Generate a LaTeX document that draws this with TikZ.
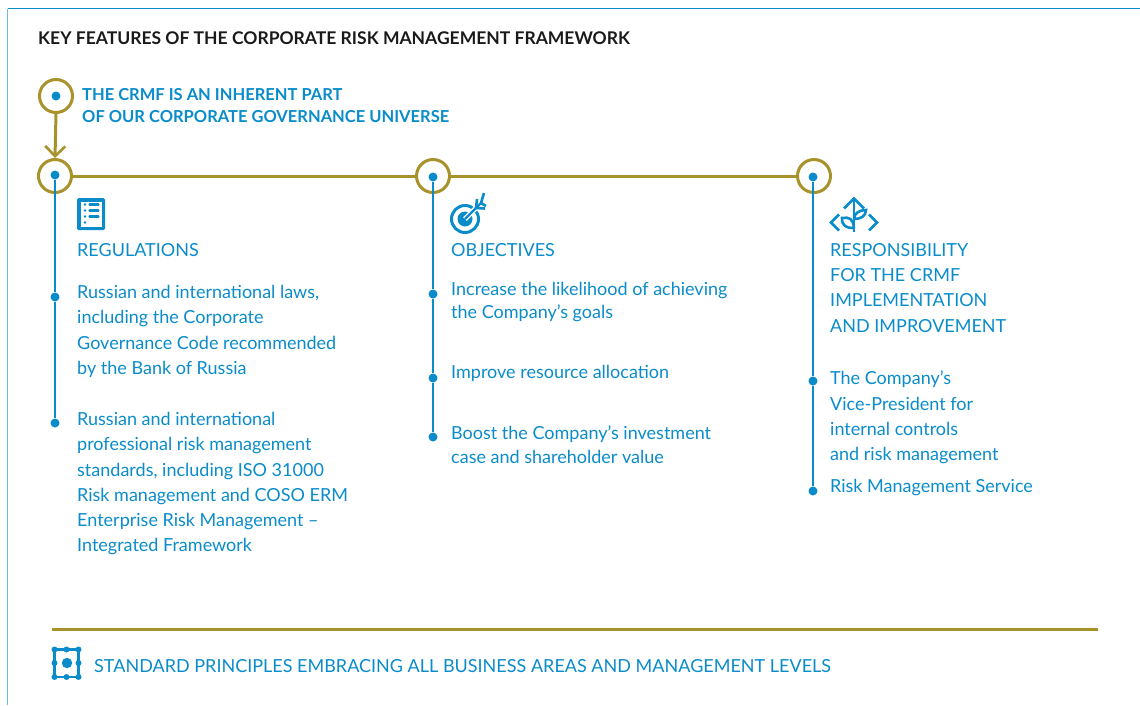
\documentclass[tikz,border=0pt]{standalone}
\usepackage{fontspec}
\setmainfont{Lato}
\usetikzlibrary{arrows.meta}
\definecolor{rblue}{HTML}{0A8CCB}
\definecolor{rframe}{HTML}{6DB9E0}
\definecolor{rgold}{HTML}{A8922B}
\definecolor{rink}{HTML}{1A1A1A}
\tikzset{
  goldring/.style={circle,draw=rgold,line width=3pt,fill=none,minimum size=33pt,inner sep=0pt},
  bluedot/.style={circle,fill=rblue,minimum size=9pt,inner sep=0pt},
  goldline/.style={draw=rgold,line width=3pt},
  blueline/.style={draw=rblue,line width=2pt},
  body/.style={anchor=north west,inner sep=0pt,align=left,text=rblue,font=\fontsize{18}{25.3}\selectfont},
  lead/.style={anchor=north west,inner sep=0pt,align=left,text=rblue,font=\fontsize{16.5}{22}\selectfont\bfseries},
  icon/.style={draw=rblue,line width=3pt,fill=none},
}
\begin{document}
\begin{tikzpicture}[x=1pt,y=-1pt]
\useasboundingbox (0,0) rectangle (1140,705);
\draw[rframe,line width=1.6pt] (7.5,8.5) -- (7.5,705);
\draw[rblue,line width=1.2pt] (7.5,8.5) -- (1140,8.5);
\node[anchor=base west,inner sep=0pt,text=rink,font=\fontsize{17.5}{21}\selectfont\bfseries] (title) at (38,44) {KEY FEATURES OF THE CORPORATE RISK MANAGEMENT FRAMEWORK};

% rings and dots
\node[goldring] (c0) at (56,96) {};
\node[goldring] (c1) at (55,176) {};
\node[goldring] (c2) at (433,176) {};
\node[goldring] (c3) at (814,176) {};
\node[bluedot] (d0) at (56,96) {};
\node[bluedot] (d1) at (55,175) {};
\node[bluedot] (d2) at (433,177) {};
\node[bluedot] (d3) at (813,177) {};
\draw[goldline,-{Straight Barb[length=10pt,width=20pt,line width=2.6pt]}] (c0.south) -- (c1.north);
\draw[goldline] (c1) -- (c2);
\draw[goldline] (c2) -- (c3);

\node[lead] (lead) at (82,88.5) {THE CRMF IS AN INHERENT PART\\OF OUR CORPORATE GOVERNANCE UNIVERSE};

% column 1
\node[bluedot] (b11) at (55,297) {};
\node[bluedot] (b12) at (55,423) {};
\draw[blueline] (d1) -- (b11);
\draw[blueline] (b11) -- (b12);
\node[body] (h1) at (77,243) {REGULATIONS};
\node[body] (t11) at (77,285) {Russian and international laws,\\including the Corporate\\Governance Code recommended\\by the Bank of Russia};
\node[body] (t12) at (77,412) {Russian and international\\professional risk management\\standards, including ISO 31000\\Risk management and COSO ERM\\Enterprise Risk Management –\\Integrated Framework};

% column 2
\node[bluedot] (b21) at (433,294) {};
\node[bluedot] (b22) at (433,378) {};
\node[bluedot] (b23) at (433,437) {};
\draw[blueline] (d2) -- (b21);
\draw[blueline] (b21) -- (b22);
\draw[blueline] (b22) -- (b23);
\node[body,font=\fontsize{18}{23.3}\selectfont] (h2) at (451,243) {OBJECTIVES};
\node[body,font=\fontsize{18}{23.3}\selectfont] (t21) at (451,282) {Increase the likelihood of achieving\\the Company’s goals};
\node[body,font=\fontsize{18}{23.3}\selectfont] (t22) at (451,365) {Improve resource allocation};
\node[body,font=\fontsize{18}{23.3}\selectfont] (t23) at (451,426) {Boost the Company’s investment\\case and shareholder value};

% column 3
\node[bluedot] (b31) at (813,381) {};
\node[bluedot] (b32) at (813,491) {};
\draw[blueline] (d3) -- (b31);
\draw[blueline] (b31) -- (b32);
\node[body] (h3) at (830,243) {RESPONSIBILITY\\FOR THE CRMF\\IMPLEMENTATION\\AND IMPROVEMENT};
\node[body] (t31) at (830,371) {The Company’s\\Vice-President for\\internal controls\\and risk management};
\node[body] (t32) at (830,479) {Risk Management Service};

% list icon
\fill[rblue,rounded corners=1.5pt] (77,198) rectangle (105,230);
\fill[white] (80.5,201.5) rectangle (101.5,226.5);
\foreach \y in {204.5,210.5,216.5}{
  \fill[rblue] (85,\y) circle (1.4);
  \draw[rblue,line width=2.2pt,line cap=round] (89.5,\y) -- (98.5,\y);
}
\fill[rblue] (85,222.5) circle (1.4);

% target icon
\draw[icon] (465,219) circle (13.5);
\fill[rblue] (465,219) circle (7.5);
\draw[white,line width=5pt] (465,219) -- (477,207);
\draw[rblue,line width=2.4pt] (465,219) -- (482,202);
\draw[rblue,line width=2.6pt] (476,208) -- (477,199);
\draw[rblue,line width=2.6pt] (476,208) -- (485,208.5);
\draw[rblue,line width=2.6pt] (481,203) -- (484,193);
\draw[rblue,line width=2.6pt] (481,203) -- (486,206);

% sprout icon
\begin{scope}[rblue,line width=2.6pt]
\draw (854,199) -- (854,232);
\draw (844,208.5) -- (854,198.5) -- (864,208.5);
\draw (839,214.5) -- (831,222.5) -- (839,230.5);
\draw (869,214.5) -- (877,222.5) -- (869,230.5);
\draw (854,228) .. controls (853,218) and (849,217) .. (842,218) .. controls (842,226) and (846,228) .. (854,228);
\draw (854,219) .. controls (854,213) and (860,210) .. (866,210) .. controls (866,216) and (861,219) .. (854,219);
\end{scope}

% bottom rule and icon
\coordinate (r0) at (52,629.5);
\coordinate (r1) at (1098,629.5);
\draw[goldline] (r0) -- (r1);
\draw[rblue,line width=2.6pt] (54.5,649.5) rectangle (78.5,677);
\foreach \x in {54.5,66.5,78.5}{
  \fill[rblue] (\x,649.5) circle (3);
  \fill[rblue] (\x,677) circle (3);
}
\fill[rblue] (54.5,663) circle (3);
\fill[rblue] (78.5,663) circle (3);
\fill[rblue] (67,663) circle (5.2);
\node[anchor=base west,inner sep=0pt,text=rblue,font=\fontsize{18}{22}\selectfont] (foot) at (94,672) {STANDARD PRINCIPLES EMBRACING ALL BUSINESS AREAS AND MANAGEMENT LEVELS};
\end{tikzpicture}
\end{document}
